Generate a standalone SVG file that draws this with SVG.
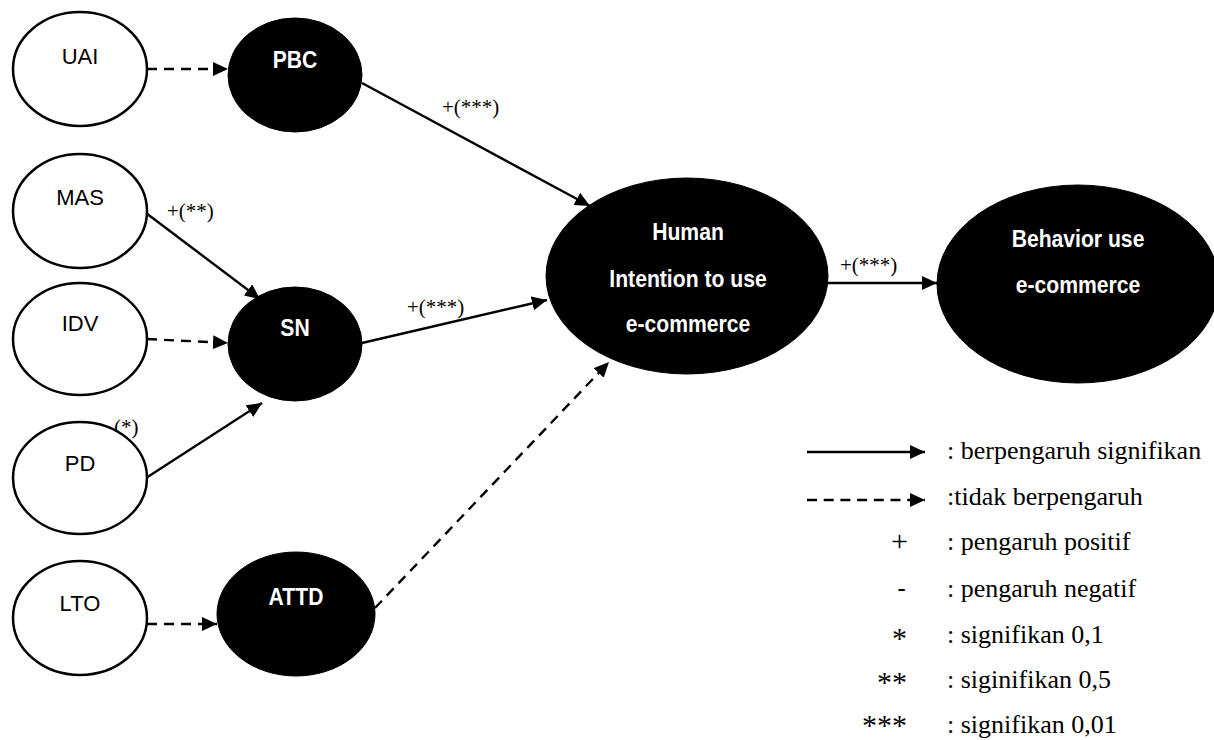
<svg xmlns="http://www.w3.org/2000/svg" width="1214" height="740" viewBox="0 0 1214 740">
  <style>
    .open { fill: #ffffff; stroke: #000000; stroke-width: 2.5; }
    .solidnode { fill: #000000; stroke: #000000; stroke-width: 1; }
    .lbl { font-family: "Liberation Sans", Arial, sans-serif; font-size: 22px; fill: #000000; text-anchor: middle; }
    .blbl { font-family: "Liberation Sans", Arial, sans-serif; font-size: 23.5px; font-weight: bold; fill: #ffffff; text-anchor: middle; }
    .edge { fill: none; stroke: #000000; stroke-width: 2.4; }
    .dash { stroke-dasharray: 10 7; }
    .sig { font-family: "Liberation Serif", "Times New Roman", serif; font-size: 21px; fill: #000000; }
    .leg { font-family: "Liberation Serif", "Times New Roman", serif; font-size: 26px; fill: #000000; }
    .sym { font-family: "Liberation Serif", "Times New Roman", serif; font-size: 30px; fill: #000000; text-anchor: end; }
  </style>
  <defs>
    <marker id="arrow" markerUnits="userSpaceOnUse" markerWidth="16" markerHeight="15" refX="15" refY="7" orient="auto">
      <path d="M0,0 L15,7 L0,14 Z" fill="#000000"/>
    </marker>
  </defs>
  <rect width="1214" height="740" fill="#ffffff"/>

  <!-- connectors -->
  <g id="connectors">
    <line class="edge dash" x1="147" y1="69" x2="228" y2="69" marker-end="url(#arrow)"/>
    <line class="edge" x1="146" y1="213" x2="260" y2="299" marker-end="url(#arrow)"/>
    <line class="edge dash" x1="147" y1="339" x2="228" y2="343" marker-end="url(#arrow)"/>
    <line class="edge" x1="146" y1="478" x2="262" y2="403" marker-end="url(#arrow)"/>
    <line class="edge dash" x1="147" y1="624" x2="217" y2="624" marker-end="url(#arrow)"/>
    <line class="edge dash" x1="375" y1="608" x2="609" y2="362" marker-end="url(#arrow)"/>
    <line class="edge" x1="362" y1="83" x2="590" y2="206" marker-end="url(#arrow)"/>
    <line class="edge" x1="362" y1="343" x2="547" y2="300" marker-end="url(#arrow)"/>
    <line class="edge" x1="828" y1="283" x2="937" y2="283" marker-end="url(#arrow)"/>

    <text class="sig" x="442" y="114">+(***)</text>
    <text class="sig" x="167" y="218">+(**)</text>
    <text class="sig" x="407" y="314">+(***)</text>
    <text class="sig" x="114" y="434">(*)</text>
    <text class="sig" x="840" y="272">+(***)</text>
  </g>

  <!-- cultural dimension nodes -->
  <g id="node-uai">
    <ellipse class="open" cx="80" cy="69" rx="67" ry="57"/>
    <text class="lbl" x="80" y="64">UAI</text>
  </g>
  <g id="node-mas">
    <ellipse class="open" cx="80" cy="211" rx="67" ry="57"/>
    <text class="lbl" x="80" y="205">MAS</text>
  </g>
  <g id="node-idv">
    <ellipse class="open" cx="80" cy="339" rx="67" ry="56"/>
    <text class="lbl" x="80" y="331">IDV</text>
  </g>
  <g id="node-pd">
    <ellipse class="open" cx="80" cy="478" rx="67" ry="56"/>
    <text class="lbl" x="80" y="471">PD</text>
  </g>
  <g id="node-lto">
    <ellipse class="open" cx="80" cy="618" rx="67" ry="57"/>
    <text class="lbl" x="80" y="611">LTO</text>
  </g>

  <!-- TPB constructs -->
  <g id="node-pbc">
    <ellipse class="solidnode" cx="295" cy="75" rx="67" ry="57"/>
    <text class="blbl" transform="translate(295,68) scale(0.9,1)">PBC</text>
  </g>
  <g id="node-sn">
    <ellipse class="solidnode" cx="295" cy="344" rx="67" ry="57"/>
    <text class="blbl" transform="translate(295,336) scale(0.9,1)">SN</text>
  </g>
  <g id="node-attd">
    <ellipse class="solidnode" cx="296" cy="614" rx="79" ry="62"/>
    <text class="blbl" transform="translate(296,605) scale(0.9,1)">ATTD</text>
  </g>
  <g id="node-intention">
    <ellipse class="solidnode" cx="687" cy="276" rx="141" ry="98"/>
    <text class="blbl" transform="translate(688,240) scale(0.9,1)">Human</text>
    <text class="blbl" transform="translate(688,287) scale(0.9,1)">Intention to use</text>
    <text class="blbl" transform="translate(688,332) scale(0.9,1)">e-commerce</text>
  </g>
  <g id="node-behavior">
    <ellipse class="solidnode" cx="1078" cy="284" rx="141" ry="99"/>
    <text class="blbl" transform="translate(1078,247) scale(0.9,1)">Behavior use</text>
    <text class="blbl" transform="translate(1078,293) scale(0.9,1)">e-commerce</text>
  </g>

  <!-- legend -->
  <g id="legend">
    <line x1="807" y1="452" x2="925" y2="452" stroke="#000000" stroke-width="2.5" marker-end="url(#arrow)"/>
    <line x1="807" y1="500" x2="925" y2="500" stroke="#000000" stroke-width="2.5" stroke-dasharray="10 6.7" marker-end="url(#arrow)"/>
    <text class="sym" x="908" y="551">+</text>
    <text x="906" y="597" font-family="Liberation Sans, Arial, sans-serif" font-size="26" text-anchor="end">-</text>
    <text class="sym" x="907" y="648">*</text>
    <text class="sym" x="907" y="692">**</text>
    <text class="sym" x="907" y="735">***</text>
    <text class="leg" x="947" y="459">: berpengaruh signifikan</text>
    <text class="leg" x="947" y="505">:tidak berpengaruh</text>
    <text class="leg" x="947" y="550">: pengaruh positif</text>
    <text class="leg" x="947" y="597">: pengaruh negatif</text>
    <text class="leg" x="947" y="643">: signifikan 0,1</text>
    <text class="leg" x="947" y="688">: siginifikan 0,5</text>
    <text class="leg" x="947" y="733">: signifikan 0,01</text>
  </g>
</svg>
